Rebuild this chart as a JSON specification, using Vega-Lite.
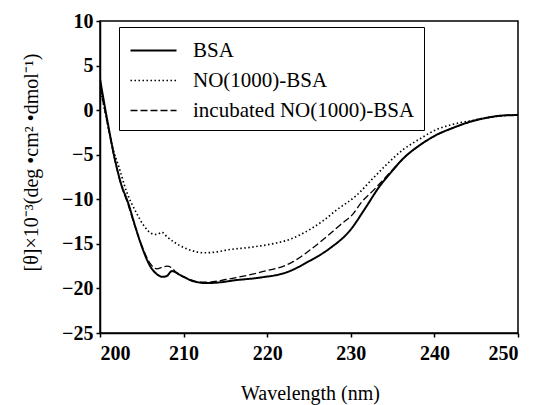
{
  "$schema": "https://vega.github.io/schema/vega-lite/v6.json",
  "width": 418,
  "height": 312,
  "autosize": {"type": "none"},
  "padding": {"left": 100, "top": 21, "right": 20, "bottom": 72},
  "background": "white",
  "config": {
    "view": {"stroke": "black", "strokeWidth": 1.5},
    "font": "Liberation Serif",
    "axis": {
      "grid": false,
      "domainColor": "black",
      "domainWidth": 1.5,
      "tickColor": "black",
      "tickWidth": 1.5,
      "tickSize": 4,
      "labelColor": "black",
      "titleColor": "black"
    },
    "legend": {
      "labelFont": "Liberation Serif",
      "labelFontSize": 21,
      "labelColor": "black",
      "labelLimit": 400,
      "labelOffset": 44,
      "symbolType": "M-1,0H4.75",
      "symbolSize": 256,
      "symbolStrokeColor": "black",
      "strokeColor": "black",
      "fillColor": "white",
      "padding": 9,
      "rowPadding": 8,
      "titleFontSize": 4,
      "titlePadding": 0
    }
  },
  "data": {
    "values": [
      {"wl": 200.0, "v": 3.5, "s": "BSA"},
      {"wl": 200.5, "v": 0.8, "s": "BSA"},
      {"wl": 201.0, "v": -1.8, "s": "BSA"},
      {"wl": 201.8, "v": -5.6, "s": "BSA"},
      {"wl": 202.5, "v": -8.2, "s": "BSA"},
      {"wl": 203.4, "v": -10.5, "s": "BSA"},
      {"wl": 204.2, "v": -13.0, "s": "BSA"},
      {"wl": 205.0, "v": -15.3, "s": "BSA"},
      {"wl": 206.0, "v": -17.5, "s": "BSA"},
      {"wl": 206.8, "v": -18.4, "s": "BSA"},
      {"wl": 207.5, "v": -18.7, "s": "BSA"},
      {"wl": 208.0, "v": -18.6, "s": "BSA"},
      {"wl": 208.6, "v": -18.05, "s": "BSA"},
      {"wl": 209.6, "v": -18.5, "s": "BSA"},
      {"wl": 211.2, "v": -19.2, "s": "BSA"},
      {"wl": 212.8, "v": -19.4, "s": "BSA"},
      {"wl": 214.5, "v": -19.3, "s": "BSA"},
      {"wl": 216.0, "v": -19.1, "s": "BSA"},
      {"wl": 219.0, "v": -18.8, "s": "BSA"},
      {"wl": 222.3, "v": -18.2, "s": "BSA"},
      {"wl": 225.1, "v": -16.9, "s": "BSA"},
      {"wl": 227.5, "v": -15.5, "s": "BSA"},
      {"wl": 229.9, "v": -13.5, "s": "BSA"},
      {"wl": 231.8, "v": -10.9, "s": "BSA"},
      {"wl": 233.4, "v": -8.6, "s": "BSA"},
      {"wl": 234.7, "v": -7.1, "s": "BSA"},
      {"wl": 236.3, "v": -5.4, "s": "BSA"},
      {"wl": 238.3, "v": -3.9, "s": "BSA"},
      {"wl": 240.2, "v": -2.8, "s": "BSA"},
      {"wl": 242.2, "v": -2.0, "s": "BSA"},
      {"wl": 244.3, "v": -1.3, "s": "BSA"},
      {"wl": 246.3, "v": -0.85, "s": "BSA"},
      {"wl": 248.3, "v": -0.6, "s": "BSA"},
      {"wl": 250.0, "v": -0.55, "s": "BSA"},

      {"wl": 200.0, "v": 2.5, "s": "NO(1000)-BSA"},
      {"wl": 200.5, "v": 0.3, "s": "NO(1000)-BSA"},
      {"wl": 201.0, "v": -2.0, "s": "NO(1000)-BSA"},
      {"wl": 201.6, "v": -4.5, "s": "NO(1000)-BSA"},
      {"wl": 202.2, "v": -6.2, "s": "NO(1000)-BSA"},
      {"wl": 203.2, "v": -9.2, "s": "NO(1000)-BSA"},
      {"wl": 204.4, "v": -11.6, "s": "NO(1000)-BSA"},
      {"wl": 205.2, "v": -12.9, "s": "NO(1000)-BSA"},
      {"wl": 206.2, "v": -13.85, "s": "NO(1000)-BSA"},
      {"wl": 206.8, "v": -13.95, "s": "NO(1000)-BSA"},
      {"wl": 207.4, "v": -13.7, "s": "NO(1000)-BSA"},
      {"wl": 208.0, "v": -14.2, "s": "NO(1000)-BSA"},
      {"wl": 209.2, "v": -15.0, "s": "NO(1000)-BSA"},
      {"wl": 210.8, "v": -15.7, "s": "NO(1000)-BSA"},
      {"wl": 212.4, "v": -16.0, "s": "NO(1000)-BSA"},
      {"wl": 214.0, "v": -15.9, "s": "NO(1000)-BSA"},
      {"wl": 215.1, "v": -15.7, "s": "NO(1000)-BSA"},
      {"wl": 218.3, "v": -15.35, "s": "NO(1000)-BSA"},
      {"wl": 221.1, "v": -14.9, "s": "NO(1000)-BSA"},
      {"wl": 222.7, "v": -14.5, "s": "NO(1000)-BSA"},
      {"wl": 223.9, "v": -14.0, "s": "NO(1000)-BSA"},
      {"wl": 226.7, "v": -12.4, "s": "NO(1000)-BSA"},
      {"wl": 228.3, "v": -11.2, "s": "NO(1000)-BSA"},
      {"wl": 230.7, "v": -9.55, "s": "NO(1000)-BSA"},
      {"wl": 232.6, "v": -7.7, "s": "NO(1000)-BSA"},
      {"wl": 234.5, "v": -5.9, "s": "NO(1000)-BSA"},
      {"wl": 236.3, "v": -4.4, "s": "NO(1000)-BSA"},
      {"wl": 238.3, "v": -3.2, "s": "NO(1000)-BSA"},
      {"wl": 240.2, "v": -2.2, "s": "NO(1000)-BSA"},
      {"wl": 242.2, "v": -1.6, "s": "NO(1000)-BSA"},
      {"wl": 244.3, "v": -1.2, "s": "NO(1000)-BSA"},
      {"wl": 246.3, "v": -0.85, "s": "NO(1000)-BSA"},
      {"wl": 248.3, "v": -0.6, "s": "NO(1000)-BSA"},
      {"wl": 250.0, "v": -0.55, "s": "NO(1000)-BSA"},

      {"wl": 200.0, "v": 2.5, "s": "incubated NO(1000)-BSA"},
      {"wl": 200.5, "v": 0.3, "s": "incubated NO(1000)-BSA"},
      {"wl": 201.0, "v": -2.0, "s": "incubated NO(1000)-BSA"},
      {"wl": 201.8, "v": -5.7, "s": "incubated NO(1000)-BSA"},
      {"wl": 202.5, "v": -8.3, "s": "incubated NO(1000)-BSA"},
      {"wl": 203.4, "v": -10.7, "s": "incubated NO(1000)-BSA"},
      {"wl": 204.2, "v": -13.1, "s": "incubated NO(1000)-BSA"},
      {"wl": 205.0, "v": -15.2, "s": "incubated NO(1000)-BSA"},
      {"wl": 206.0, "v": -17.2, "s": "incubated NO(1000)-BSA"},
      {"wl": 206.8, "v": -17.8, "s": "incubated NO(1000)-BSA"},
      {"wl": 207.5, "v": -17.6, "s": "incubated NO(1000)-BSA"},
      {"wl": 208.0, "v": -17.5, "s": "incubated NO(1000)-BSA"},
      {"wl": 208.6, "v": -17.7, "s": "incubated NO(1000)-BSA"},
      {"wl": 209.2, "v": -18.3, "s": "incubated NO(1000)-BSA"},
      {"wl": 210.5, "v": -18.9, "s": "incubated NO(1000)-BSA"},
      {"wl": 212.0, "v": -19.3, "s": "incubated NO(1000)-BSA"},
      {"wl": 213.0, "v": -19.3, "s": "incubated NO(1000)-BSA"},
      {"wl": 215.0, "v": -19.0, "s": "incubated NO(1000)-BSA"},
      {"wl": 219.1, "v": -18.2, "s": "incubated NO(1000)-BSA"},
      {"wl": 223.1, "v": -17.0, "s": "incubated NO(1000)-BSA"},
      {"wl": 225.1, "v": -15.7, "s": "incubated NO(1000)-BSA"},
      {"wl": 227.1, "v": -14.2, "s": "incubated NO(1000)-BSA"},
      {"wl": 228.7, "v": -12.9, "s": "incubated NO(1000)-BSA"},
      {"wl": 230.3, "v": -11.6, "s": "incubated NO(1000)-BSA"},
      {"wl": 231.3, "v": -10.3, "s": "incubated NO(1000)-BSA"},
      {"wl": 232.7, "v": -9.0, "s": "incubated NO(1000)-BSA"},
      {"wl": 234.2, "v": -7.5, "s": "incubated NO(1000)-BSA"},
      {"wl": 236.3, "v": -5.4, "s": "incubated NO(1000)-BSA"},
      {"wl": 238.3, "v": -3.9, "s": "incubated NO(1000)-BSA"},
      {"wl": 240.2, "v": -2.8, "s": "incubated NO(1000)-BSA"},
      {"wl": 242.2, "v": -2.0, "s": "incubated NO(1000)-BSA"},
      {"wl": 244.3, "v": -1.3, "s": "incubated NO(1000)-BSA"},
      {"wl": 246.3, "v": -0.85, "s": "incubated NO(1000)-BSA"},
      {"wl": 248.3, "v": -0.6, "s": "incubated NO(1000)-BSA"},
      {"wl": 250.0, "v": -0.55, "s": "incubated NO(1000)-BSA"}
    ]
  },
  "mark": {"type": "line", "color": "black", "interpolate": "monotone", "clip": true},
  "encoding": {
    "x": {
      "field": "wl",
      "type": "quantitative",
      "scale": {"domain": [200, 250], "nice": false, "zero": false},
      "axis": {
        "values": [200, 210, 220, 230, 240, 250],
        "title": "Wavelength (nm)",
        "labelFont": "Liberation Serif",
        "labelFontSize": 20,
        "labelFontWeight": "bold",
        "titleFont": "Liberation Serif",
        "titleFontSize": 20,
        "titleFontWeight": "normal",
        "labelPadding": 6,
        "titleX": 210,
        "titleY": 66,
        "titleAlign": "center",
        "titleBaseline": "alphabetic"
      }
    },
    "y": {
      "field": "v",
      "type": "quantitative",
      "scale": {"domain": [-25, 10], "nice": false, "zero": false},
      "axis": {
        "values": [-25, -20, -15, -10, -5, 0, 5, 10],
        "title": "[θ]×10⁻³(deg •cm² •dmol⁻¹)",
        "labelFont": "Liberation Serif",
        "labelFontSize": 20,
        "labelFontWeight": "bold",
        "titleFont": "Liberation Serif",
        "titleFontSize": 20,
        "titleFontWeight": "normal",
        "labelPadding": 3,
        "titleX": -69,
        "titleY": 141,
        "titleAngle": 270,
        "titleAlign": "center",
        "titleBaseline": "middle"
      }
    },
    "strokeDash": {
      "field": "s",
      "type": "nominal",
      "scale": {
        "domain": ["BSA", "NO(1000)-BSA", "incubated NO(1000)-BSA"],
        "range": [[1, 0], [1.5, 2.5], [7, 3]]
      },
      "legend": {"title": " ", "orient": "none", "legendX": 19, "legendY": 6}
    },
    "strokeWidth": {
      "field": "s",
      "type": "nominal",
      "scale": {
        "domain": ["BSA", "NO(1000)-BSA", "incubated NO(1000)-BSA"],
        "range": [2, 1.3, 2]
      },
      "legend": {"title": " ", "orient": "none", "legendX": 19, "legendY": 6}
    }
  }
}
